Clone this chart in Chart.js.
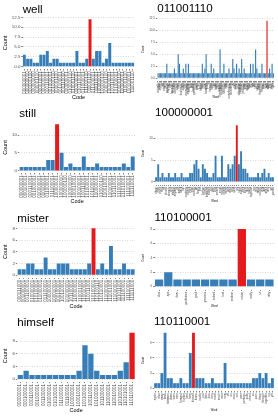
<!DOCTYPE html>
<html>
<head>
<meta charset="utf-8">
<script src="https://cdn.jsdelivr.net/npm/chart.js@4.4.1/dist/chart.umd.min.js"></script>
<style>
  html, body { margin: 0; padding: 0; background: #fff; }
  #grid { position: relative; width: 278px; height: 417px; overflow: hidden; }
  #grid canvas { position: absolute; }
</style>
</head>
<body>
<div id="grid">
  <canvas id="p-well" width="139" height="104" style="left:0;top:0"></canvas>
  <canvas id="p-011001110" width="139" height="104" style="left:139px;top:0"></canvas>
  <canvas id="p-still" width="139" height="104" style="left:0;top:104px"></canvas>
  <canvas id="p-100000001" width="139" height="104" style="left:139px;top:104px"></canvas>
  <canvas id="p-mister" width="139" height="104" style="left:0;top:209px"></canvas>
  <canvas id="p-110100001" width="139" height="104" style="left:139px;top:209px"></canvas>
  <canvas id="p-himself" width="139" height="104" style="left:0;top:313px"></canvas>
  <canvas id="p-110110001" width="139" height="104" style="left:139px;top:313px"></canvas>
</div>
<script>
const BLUE = "#377EB8";
const RED = "#E41A1C";

// Left column: codes used for a word
const wellCodes = ["000000001", "000000010", "000000110", "000001000", "000001110", "000010001",
	"000100001", "000110001", "001000001", "001000110", "001001110", "001100001", "001110000",
	"010000001", "010000110", "010001110", "010100001", "010110001", "011000001", "011000110",
	"011001110", "011100001", "011110001", "100000001", "100000110", "100001110", "100100001",
	"100110001", "101000001", "101001110", "110000001", "110001110", "110100001", "111001110"];
const wellCounts = [3, 2, 2, 1, 1, 3, 3, 4, 1, 2, 2, 1, 1, 1, 1, 1, 4, 1, 1, 2, 12, 2, 4, 4, 1, 2, 6,
	1, 1, 1, 1, 1, 1, 1];
const wellTicks = [0, 2.5, 5, 7.5, 10, 12.5];

const stillCodes = ["000000001", "000100001", "000110001", "001000001", "010000001", "010100001",
	"011000001", "011100001", "100000001", "100000010", "100000110", "100001000", "100010001",
	"100100001", "100110001", "101000001", "101100001", "110000001", "110000110", "110010001",
	"110100001", "110110001", "111000001", "111010001", "111100001", "111110001"];
const stillCounts = [1, 1, 1, 1, 1, 1, 3, 3, 13, 5, 1, 2, 1, 1, 4, 1, 1, 2, 1, 1, 1, 1, 1, 2, 1, 4];
const stillTicks = [0, 5, 10];

const misterCodes = ["000111000", "001000001", "001100001", "010000001", "010100001", "011000001",
	"011100001", "100000001", "100010001", "100100001", "100110001", "101000001", "101100001",
	"110000001", "110001000", "110010001", "110011000", "110100001", "110100110", "110110001",
	"111000001", "111001000", "111010001", "111011000", "111100001", "111110001", "111111000"];
const misterCounts = [1, 1, 2, 2, 1, 1, 3, 1, 1, 2, 2, 2, 1, 1, 1, 1, 2, 8, 1, 2, 1, 5, 1, 1, 2, 1, 1];
const misterTicks = [0, 2, 4, 6, 8];

const himselfCodes = ["000000001", "000100001", "000110001", "001000001", "001100001", "010000001",
	"010100001", "011000001", "011100001", "100000001", "100010001", "100100001", "100110001",
	"101000001", "101100001", "110000001", "110010001", "110100001", "110101001", "110110001"];
const himselfCounts = [1, 2, 1, 1, 1, 1, 1, 1, 1, 1, 2, 8, 6, 2, 1, 1, 1, 2, 4, 11];
const himselfTicks = [0, 3, 6, 9];

// Right column: words carrying a code
const words011001110 = ["actually", "after", "again", "ah", "all", "alright", "and", "anyhow",
	"anyway", "as", "aye", "because", "besides", "but", "certainly", "come", "dear", "do",
	"doubtless", "eh", "either", "else", "especially", "even", "evidently", "exactly", "fine",
	"first", "frankly", "generally", "good", "great", "ha", "hello", "hence", "here", "hey", "how",
	"however", "hush", "if", "indeed", "just", "lastly", "let", "like", "listen", "look", "maybe",
	"meanwhile", "mind", "moreover", "naturally", "nay", "next", "no", "nonetheless", "now",
	"obviously", "of", "oh", "okay", "once", "only", "otherwise", "perhaps", "please", "possibly",
	"pray", "quite", "rather", "really", "right", "say", "see", "so", "still", "sure", "surely",
	"then", "there", "therefore", "though", "thus", "truly", "very", "well", "what", "why", "yeah",
	"yes", "yet"];
const counts011001110 = [1, 1, 1, 1, 1, 1, 1, 3, 1, 1,
	1, 1, 1, 2, 1, 1, 5, 3, 1, 1,
	2, 1, 3, 1, 3, 1, 1, 1, 1, 1,
	1, 1, 1, 1, 1, 3, 1, 2, 5, 1,
	1, 1, 3, 1, 2, 1, 1, 1, 1, 6,
	1, 1, 3, 1, 1, 1, 2, 1, 1, 4,
	2, 1, 3, 1, 2, 1, 4, 1, 2, 1,
	1, 1, 1, 3, 1, 3, 1, 6, 2, 1,
	1, 1, 3, 1, 1, 1, 12, 1, 2, 1,
	3, 1];
const ticks011001110 = [0, 2.5, 5, 7.5, 10, 12.5];

const words100000001 = ["about", "after", "again", "ago", "all", "almost", "already", "also",
	"always", "anyway", "as", "away", "back", "but", "certainly", "clearly", "even", "ever",
	"exactly", "far", "finally", "first", "further", "hardly", "however", "indeed", "just", "later",
	"long", "merely", "more", "mostly", "nearly", "never", "now", "often", "only", "quite", "still",
	"such", "surely", "then", "there", "thus", "today", "together", "too", "truly", "twice",
	"usually", "very", "well", "when", "why", "yet", "yonder"];
const counts100000001 = [1, 4, 1, 2, 1, 1, 2, 1, 1, 2, 1, 1, 2, 1, 1, 1, 2, 2, 4, 5, 3, 1, 4, 3, 2, 1,
	1, 2, 6, 1, 1, 6, 1, 1, 4, 3, 4, 6, 13, 4, 7, 3, 3, 2, 1, 1, 1, 1, 2, 1, 2, 3, 1, 2, 1, 1];
const ticks100000001 = [0, 5, 10];

const words110100001 = ["alas", "aye", "dear", "gentlemen", "good", "gracious", "indeed", "lord",
	"madam", "mister", "really", "sir", "why"];
const counts110100001 = [1, 2, 1, 1, 1, 1, 1, 1, 1, 8, 1, 1, 1];
const ticks110100001 = [0, 2, 4, 6, 8];

const words110110001 = ["again", "also", "away", "back", "between", "down", "even", "ever",
	"forward", "further", "hard", "here", "himself", "home", "inside", "just", "later", "less",
	"long", "more", "much", "near", "now", "off", "on", "once", "out", "over", "perhaps", "quite",
	"round", "so", "soon", "there", "through", "together", "up", "yet"];
const counts110110001 = [1, 1, 3, 11, 2, 2, 1, 1, 2, 1, 1, 7, 11, 2, 2, 2, 1, 1, 2, 1, 1, 1, 5, 1, 1,
	1, 1, 1, 1, 1, 1, 2, 2, 3, 2, 3, 1, 2];
const ticks110110001 = [0, 3, 6, 9];

const panels = [
	{ id: "p-well", title: "well", labels: wellCodes, values: wellCounts, ticks: wellTicks,
		pick: "011001110", axis: "Code", side: "left", area: { left: 22.7, top: 17, bottom: 69 } },
	{ id: "p-011001110", title: "011001110", labels: words011001110, values: counts011001110,
		ticks: ticks011001110, pick: "well", axis: "Word", side: "right",
		area: { left: 18.3, top: 17.8, bottom: 81 } },
	{ id: "p-still", title: "still", labels: stillCodes, values: stillCounts, ticks: stillTicks,
		pick: "100000001", axis: "Code", side: "left", area: { left: 19.3, top: 18, bottom: 69 } },
	{ id: "p-100000001", title: "100000001", labels: words100000001, values: counts100000001,
		ticks: ticks100000001, pick: "still", axis: "Word", side: "right",
		area: { left: 16, top: 18.5, bottom: 80.5 } },
	{ id: "p-mister", title: "mister", labels: misterCodes, values: misterCounts, ticks: misterTicks,
		pick: "110100001", axis: "Code", side: "left", area: { left: 17.3, top: 17, bottom: 68.5 } },
	{ id: "p-110100001", title: "110100001", labels: words110100001, values: counts110100001,
		ticks: ticks110100001, pick: "mister", axis: "Word", side: "right",
		area: { left: 15.5, top: 17.2, bottom: 80.5 } },
	{ id: "p-himself", title: "himself", labels: himselfCodes, values: himselfCounts,
		ticks: himselfTicks, pick: "110110001", axis: "Code", side: "left",
		area: { left: 17.3, top: 17.3, bottom: 68.6 } },
	{ id: "p-110110001", title: "110110001", labels: words110110001, values: counts110110001,
		ticks: ticks110110001, pick: "himself", axis: "Word", side: "right",
		area: { left: 15, top: 17, bottom: 78 } },
];

// Font sizes and text positions for each column
const sideStyle = {
	left: { titleY: 13, yTick: 4.4, xTick: 4.5, axisFont: 5.5, yTitleX: 5, xTitleY: 97.5 },
	right: { titleY: 12.3, yTick: 3, xTick: 2.8, axisFont: 2.7, yTitleX: 4, xTitleY: 97.7 },
};

Chart.defaults.font.family = '"Liberation Sans", Arial, sans-serif';

// Panel title, left aligned on the plot area like ggplot
const panelTitle = {
	id: "panelTitle",
	afterDraw(chart, args, opts) {
		const { ctx, chartArea } = chart;
		ctx.save();
		ctx.font = '11.6px "Liberation Sans", Arial, sans-serif';
		ctx.fillStyle = "#000";
		ctx.textBaseline = "alphabetic";
		ctx.fillText(opts.text, chartArea.left, opts.y);
		ctx.restore();
	},
};

function drawPanel(p) {
	const s = sideStyle[p.side];
	const canvas = document.getElementById(p.id);
	const H = canvas.height;
	const top = Math.max(...p.values);
	const dec = p.ticks.some((t) => t % 1 !== 0) ? 1 : 0;
	const axisLine = s.axisFont * 1.2;

	new Chart(canvas, {
		type: "bar",
		data: {
			labels: p.labels,
			datasets: [
				{
					data: p.values,
					backgroundColor: p.labels.map((l) => (l === p.pick ? RED : BLUE)),
					barPercentage: 0.9,
					categoryPercentage: 1,
				},
			],
		},
		options: {
			responsive: false,
			animation: false,
			layout: { padding: { top: p.area.top, right: 4, bottom: 0, left: 0 } },
			plugins: {
				legend: { display: false },
				tooltip: { enabled: false },
				panelTitle: { text: p.title, y: s.titleY },
			},
			scales: {
				x: {
					offset: true,
					grid: { drawOnChartArea: false, offset: false, tickLength: 1.5, tickColor: "#333", tickWidth: 0.6 },
					border: { display: false },
					ticks: {
						autoSkip: false,
						minRotation: 90,
						maxRotation: 90,
						padding: 0.8,
						color: "#4D4D4D",
						font: { size: s.xTick },
					},
					title: {
						display: true,
						text: p.axis,
						color: "#000",
						font: { size: s.axisFont },
						padding: { top: 0, bottom: H - s.xTitleY - axisLine / 2 },
					},
					afterFit: (scale) => {
						scale.height = H - p.area.bottom;
					},
				},
				y: {
					min: -0.05 * top,
					max: 1.05 * top,
					grid: { color: "#BDBDBD", lineWidth: 0.6, tickLength: 1.5, tickColor: "#333", tickWidth: 0.6 },
					border: { display: false, dash: [1, 1.5] },
					ticks: {
						padding: 0.8,
						color: "#4D4D4D",
						font: { size: s.yTick },
						callback: (v) => Number(v).toFixed(dec),
					},
					afterBuildTicks: (scale) => {
						scale.ticks = p.ticks.map((v) => ({ value: v }));
					},
					title: {
						display: true,
						text: "Count",
						color: "#000",
						font: { size: s.axisFont },
						padding: { top: s.yTitleX - axisLine / 2, bottom: 0 },
					},
					afterFit: (scale) => {
						scale.width = p.area.left;
					},
				},
			},
		},
		plugins: [panelTitle],
	});
}

panels.forEach(drawPanel);
</script>
</body>
</html>
